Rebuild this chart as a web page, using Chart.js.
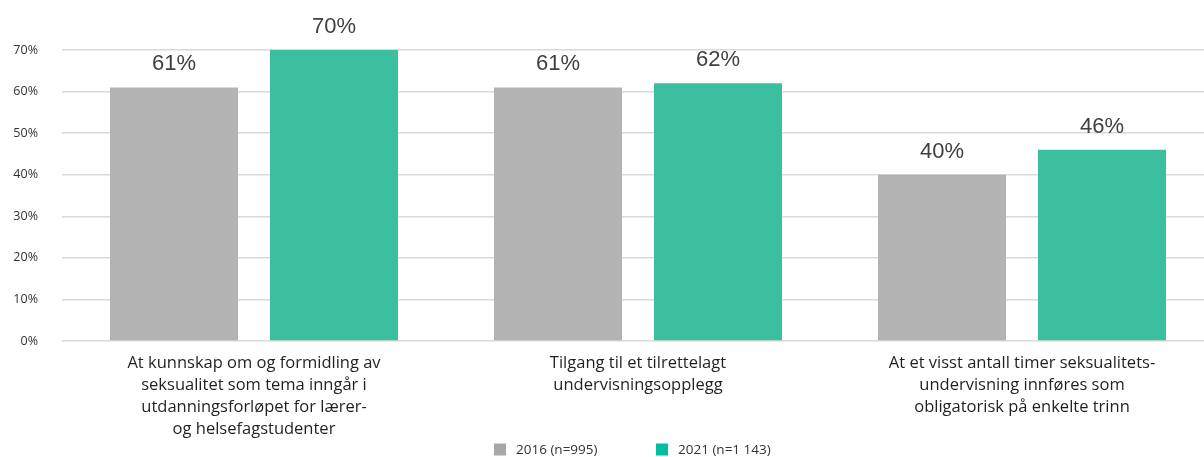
<!DOCTYPE html>
<html>
<head>
<meta charset="utf-8">
<script src="https://cdn.jsdelivr.net/npm/chart.js@4"></script>
<style>
  html, body { margin: 0; padding: 0; background: #fff; overflow: hidden; }
  #wrap { width: 1214px; height: 457px; position: relative; }
</style>
</head>
<body>
<div id="wrap"><canvas id="c"></canvas></div>
<script>
const categories = [
  ["At kunnskap om og formidling av", "seksualitet som tema inngår i", "utdanningsforløpet for lærer-", "og helsefagstudenter"],
  ["Tilgang til et tilrettelagt", "undervisningsopplegg"],
  ["At et visst antall timer seksualitets-", "undervisning innføres som", "obligatorisk på enkelte trinn"]
];
const seriesNames = ["2016 (n=995)", "2021 (n=1 143)"];
const values2016 = [61, 61, 40];
const values2021 = [70, 62, 46];
const yTicks = [0, 10, 20, 30, 40, 50, 60, 70];

const barColors = ["#b3b3b3", "#3cbf9f"];
const legendColors = ["#a8a8a8", "#00bfa0"];

const valueLabels = {
  id: 'valueLabels',
  afterDatasetsDraw(chart) {
    const ctx = chart.ctx;
    ctx.save();
    ctx.font = '22px "Liberation Sans", Arial, sans-serif';
    ctx.fillStyle = '#404040';
    ctx.textAlign = 'center';
    ctx.textBaseline = 'alphabetic';
    chart.data.datasets.forEach((ds, i) => {
      const meta = chart.getDatasetMeta(i);
      meta.data.forEach((bar, j) => {
        ctx.fillText(ds.data[j] + '%', bar.x, bar.y - 17);
      });
    });
    ctx.restore();
  }
};

const customLegend = {
  id: 'customLegend',
  afterDraw(chart) {
    const ctx = chart.ctx;
    ctx.save();
    ctx.font = '13.5px "Open Sans", sans-serif';
    ctx.textBaseline = 'middle';
    ctx.textAlign = 'left';
    const starts = [494, 656];
    const yc = 449.5;
    chart.data.datasets.forEach((ds, i) => {
      const x = starts[i];
      ctx.fillStyle = legendColors[i];
      ctx.fillRect(x, yc - 6, 12, 12);
      ctx.fillStyle = '#333333';
      ctx.fillText(ds.label, x + 22, yc + 1);
    });
    ctx.restore();
  }
};

new Chart(document.getElementById('c'), {
  type: 'bar',
  data: {
    labels: categories,
    datasets: [
      { label: seriesNames[0], data: values2016, backgroundColor: barColors[0] },
      { label: seriesNames[1], data: values2021, backgroundColor: barColors[1] }
    ]
  },
  options: {
    responsive: true,
    maintainAspectRatio: false,
    animation: false,
    layout: { padding: { top: 50, right: 0, left: 0, bottom: 0 } },
    datasets: { bar: { categoryPercentage: 320/384, barPercentage: 0.8 } },
    plugins: {
      legend: { display: false },
      tooltip: { enabled: false }
    },
    scales: {
      x: {
        grid: { display: false, drawTicks: false },
        border: { display: false },
        ticks: {
          padding: 11,
          color: '#231f20',
          font: { family: '"Open Sans", sans-serif', size: 16.5, lineHeight: '22px' },
          maxRotation: 0,
          autoSkip: false
        },
        afterFit(scale) { scale.height = 116; }
      },
      y: {
        min: 0,
        max: 70,
        afterBuildTicks(scale) { scale.ticks = yTicks.map(v => ({ value: v })); },
        grid: { color: '#d9d9d9', lineWidth: 1.5, drawTicks: false },
        border: { display: false },
        ticks: {
          padding: 24,
          color: '#333333',
          font: { family: '"Open Sans", sans-serif', size: 12.5 },
          callback: v => v + '%'
        },
        afterFit(scale) { scale.width = 62; }
      }
    }
  },
  plugins: [valueLabels, customLegend]
});
</script>
</body>
</html>
